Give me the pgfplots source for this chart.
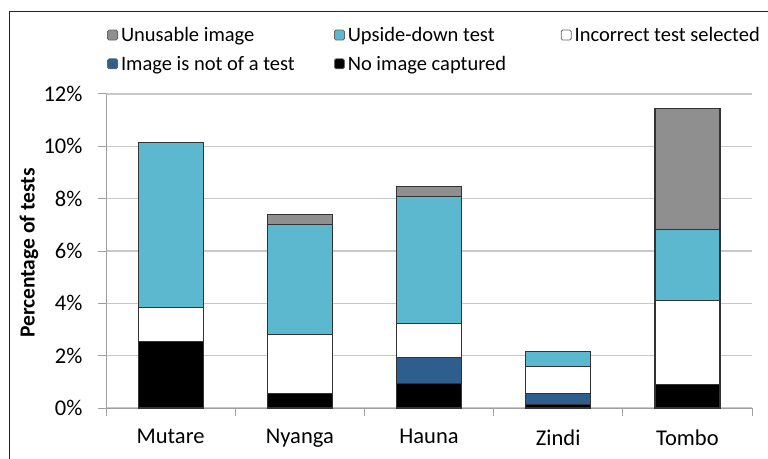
\documentclass[border=0pt]{standalone}
\usepackage{pgfplots}
\pgfplotsset{compat=1.18}
\usepackage{fontspec}
\setmainfont{Carlito}
\definecolor{cgray}{HTML}{8F8F8F}
\definecolor{cteal}{HTML}{5BB8CF}
\definecolor{cblue}{HTML}{2E5E8E}
\definecolor{cgrid}{HTML}{C8C8C8}
\definecolor{caxis}{HTML}{A0A0A0}
\begin{document}
\begin{tikzpicture}[x=1pt,y=1pt]
\useasboundingbox (0,0) rectangle (768,458);
\draw[line width=1pt, black!85] (9,-5) -- (9,446) -- (775,446);
\begin{axis}[
  at={(106pt,50pt)}, anchor=south west,
  scale only axis, width=646pt, height=314pt,
  xmin=-0.5, xmax=4.5, ymin=0, ymax=12,
  ybar stacked, bar width=65pt,
  xtick={0,1,2,3,4},
  xticklabels={Mutare,Nyanga,Hauna,Zindi,Tombo},
  minor xtick={-0.5,0.5,1.5,2.5,3.5,4.5},
  ytick={0,2,4,6,8,10,12},
  yticklabel={\pgfmathprintnumber{\tick}\%},
  /pgf/number format/assume math mode=true,
  major x tick style={draw=none},
  minor x tick style={draw=caxis, line width=1pt},
  major y tick style={draw=caxis, line width=1pt},
  major tick length=8pt, minor tick length=8pt,
  tick align=outside, tick pos=left,
  axis x line*=bottom, axis y line*=left,
  axis line style={draw=caxis, line width=1pt, -},
  ymajorgrids, grid style={draw=cgrid, line width=1.2pt},
  tick label style={font=\fontsize{22.5}{25}\selectfont},
  xticklabel style={yshift=-10pt},
  yticklabel style={xshift=-12pt},
  every axis y label/.style={at={(axis description cs:0,0.5)}, xshift=-77pt, yshift=-2pt, rotate=90, anchor=center, font=\fontsize{21.5}{24}\selectfont\bfseries},
  ylabel={Percentage of tests},
  every axis plot/.append style={draw=black!80, line width=1.2pt},
  reverse legend,
  legend columns=3,
  legend style={draw=none, fill=none, at={(107pt-106pt,433pt-50pt)}, anchor=north west,
    font=\fontsize{20.5}{22}\selectfont, inner sep=0pt, row sep=9pt,
    /tikz/every odd column/.append style={column sep=1pt},
    /tikz/every even column/.append style={column sep=0pt}},
  legend cell align=left,
  legend image code/.code={\draw[#1, draw=black!60, line width=0.8pt, rounded corners=1.5pt] (0pt,-5pt) rectangle (10pt,5pt);},
]
\addplot[fill=black] coordinates {(0,2.55) (1,0.56) (2,0.95) (3,0.13) (4,0.89)};
\addlegendentry{\makebox[211pt][l]{No image captured}}
\addplot[fill=cblue] coordinates {(0,0) (1,0) (2,0.98) (3,0.43) (4,0)};
\addlegendentry{\makebox[211pt][l]{Image is not of a test}}
\addplot[fill=white] coordinates {(0,1.30) (1,2.26) (2,1.31) (3,1.03) (4,3.22)};
\addlegendentry{Incorrect test selected}
\addplot[fill=cteal] coordinates {(0,6.29) (1,4.20) (2,4.85) (3,0.57) (4,2.72)};
\addlegendentry{\makebox[211pt][l]{Upside-down test}}
\addplot[fill=cgray] coordinates {(0,0) (1,0.39) (2,0.36) (3,0) (4,4.62)};
\addlegendentry{\makebox[211pt][l]{Unusable image}}
\end{axis}
\end{tikzpicture}
\end{document}
